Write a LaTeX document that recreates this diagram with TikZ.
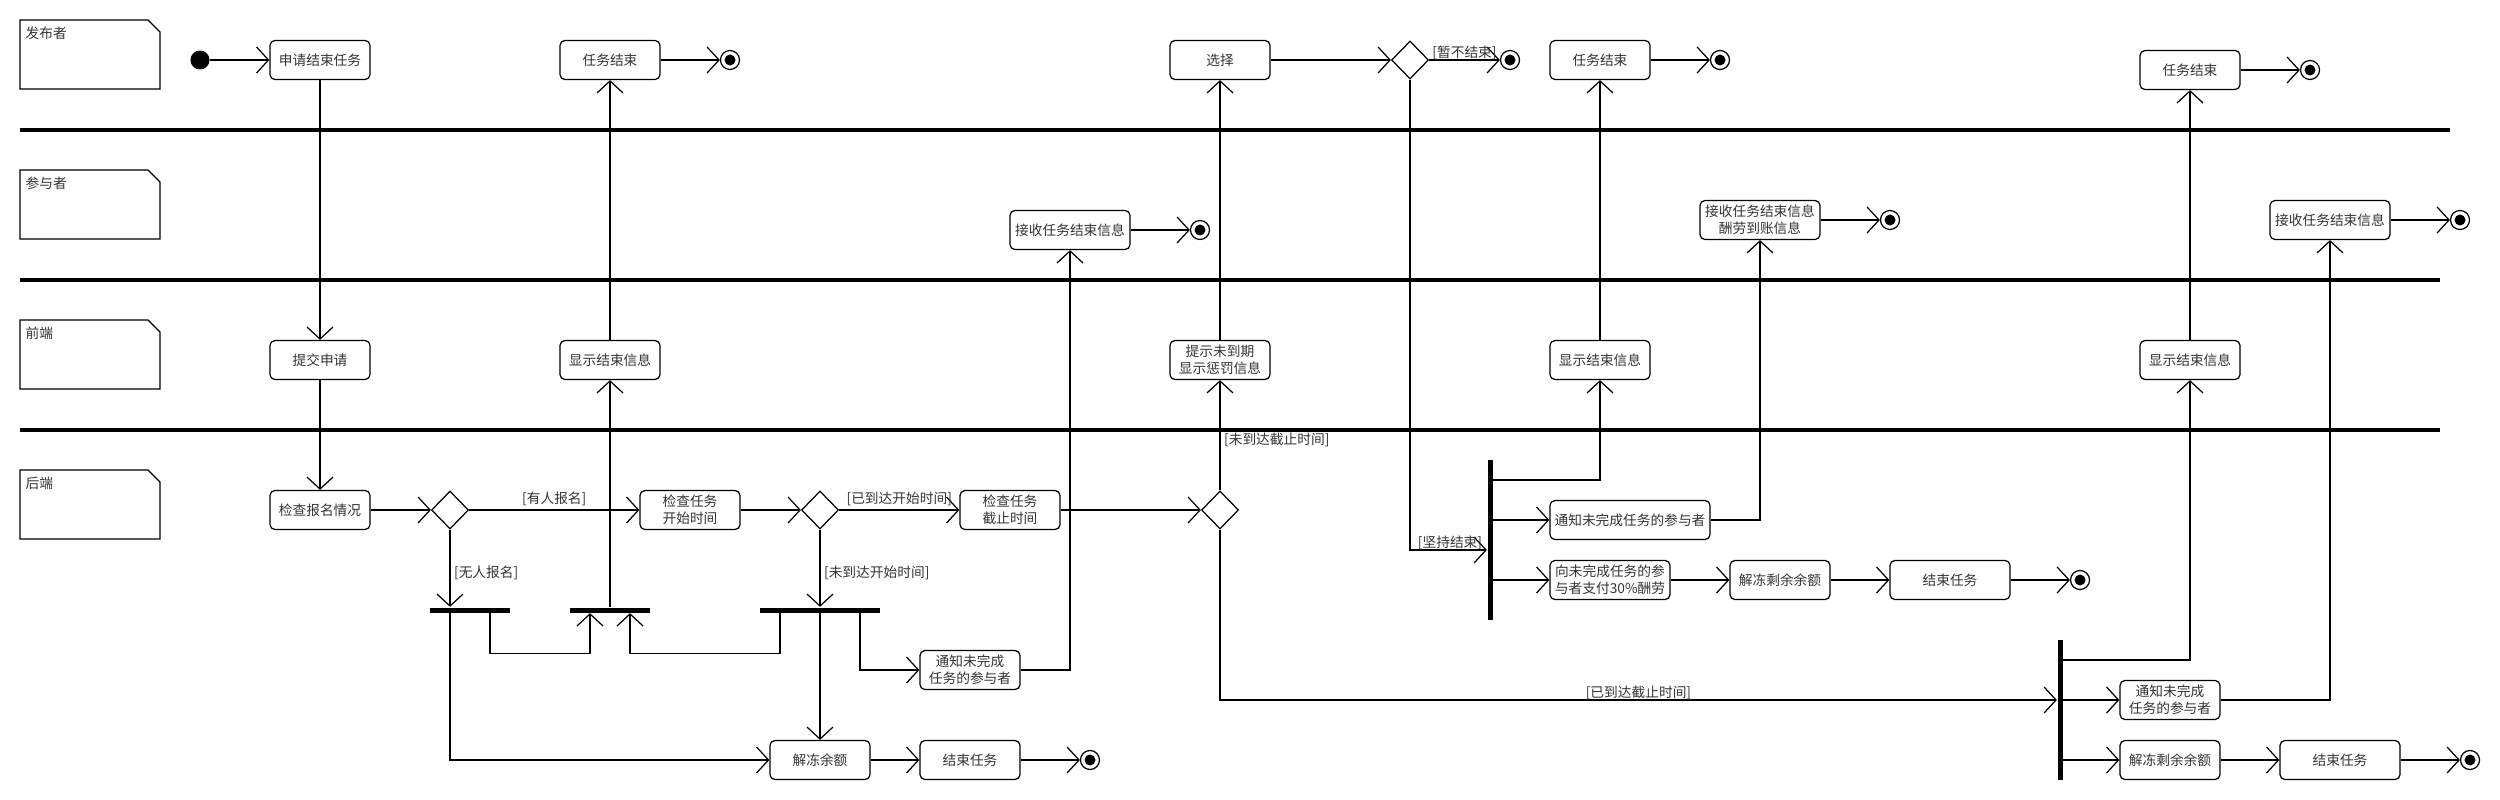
\documentclass[tikz,border=0pt]{standalone}
\usepackage{fontspec}
\setmainfont{Noto Sans CJK SC}
\usetikzlibrary{arrows.meta,shapes.geometric}

\begin{document}
\begin{tikzpicture}[x=0.01cm,y=-0.01cm,line width=0.35pt]
        \tikzset{
        txt/.style={font=\fontsize{3.9}{4.8}\selectfont, text=black!80},
        act/.style={draw, rounded corners=0.05cm, minimum width=1cm,
        minimum height=0.39cm, inner sep=0pt, align=center, txt},
        dec/.style={diamond, draw, minimum width=0.37cm, minimum height=0.38cm, inner sep=0pt},
        ini/.style={circle, fill=black, minimum size=0.19cm, inner sep=0pt},
        fin/.style={circle, draw, minimum size=0.19cm, inner sep=0pt,
        path picture={\fill (path picture bounding box.center) circle (0.055cm);}},
        hbar/.style={fill=black, inner sep=0pt, minimum height=0.05cm},
        vbar/.style={fill=black, inner sep=0pt, minimum width=0.05cm},
        grd/.style={txt, inner sep=1pt},
        arr/.style={-{Straight Barb[length=0.12cm,width=0.26cm]}},
        lane/.style={line width=1.4pt},
        }
        \useasboundingbox (0,0) rectangle (2500,800);

        % lanes
        \foreach \y/\t in {20/发布者,170/参与者,320/前端,470/后端} {
        \draw (20,\y) -- (148,\y) -- (160,\y+12) -- (160,\y+69) -- (20,\y+69) -- cycle;
        \node[txt, anchor=west, inner sep=0pt] (l\y) at (25,\y+13) {\t};
        }
        \foreach \y/\e in {130/2450,280/2440,430/2440}
        \draw[lane] (20,\y) -- (\e,\y);

        % 发布者
        \node[ini] (s0) at (200,60) {};
        \node[act] (p1) at (320,60) {申请结束任务};
        \node[act] (p2) at (610,60) {任务结束};
        \node[fin] (e1) at (730,60) {};
        \node[act] (p3) at (1220,60) {选择};
        \node[dec] (d4) at (1410,60) {};
        \node[fin] (e2) at (1510,60) {};
        \node[act] (p4) at (1600,60) {任务结束};
        \node[fin] (e3) at (1720,60) {};
        \node[act] (p5) at (2190,70) {任务结束};
        \node[fin] (e4) at (2310,70) {};
        % 参与者
        \node[act, minimum width=1.2cm] (r1) at (1070,230) {接收任务结束信息};
        \node[fin] (e5) at (1200,230) {};
        \node[act, minimum width=1.2cm] (r2) at (1760,220) {接收任务结束信息\\酬劳到账信息};
        \node[fin] (e6) at (1890,220) {};
        \node[act, minimum width=1.2cm] (r3) at (2330,220) {接收任务结束信息};
        \node[fin] (e7) at (2460,220) {};
        % 前端
        \node[act] (f1) at (320,360) {提交申请};
        \node[act] (f2) at (610,360) {显示结束信息};
        \node[act] (f3) at (1220,360) {提示未到期\\显示惩罚信息};
        \node[act] (f4) at (1600,360) {显示结束信息};
        \node[act] (f5) at (2190,360) {显示结束信息};
        % 后端
        \node[act] (b1) at (320,510) {检查报名情况};
        \node[dec] (d1) at (450,510) {};
        \node[act] (b2) at (690,510) {检查任务\\开始时间};
        \node[dec] (d2) at (820,510) {};
        \node[act] (b3) at (1010,510) {检查任务\\截止时间};
        \node[dec] (d3) at (1220,510) {};
        \node[hbar, minimum width=0.8cm] (k1) at (470,610) {};
        \node[hbar, minimum width=0.8cm] (k2) at (610,610) {};
        \node[hbar, minimum width=1.2cm] (k3) at (820,610) {};
        \node[act] (b4) at (970,670) {通知未完成\\任务的参与者};
        \node[act] (b5) at (820,760) {解冻余额};
        \node[act] (b6) at (970,760) {结束任务};
        \node[fin] (e8) at (1090,760) {};
        \node[vbar, minimum height=1.6cm] (k4) at (1490,540) {};
        \node[act, minimum width=1.6cm] (b7) at (1630,520) {通知未完成任务的参与者};
        \node[act, minimum width=1.2cm] (b8) at (1610,580) {向未完成任务的参\\与者支付30\%酬劳};
        \node[act] (b9) at (1780,580) {解冻剩余余额};
        \node[act, minimum width=1.2cm] (b10) at (1950,580) {结束任务};
        \node[fin] (e9) at (2080,580) {};
        \node[vbar, minimum height=1.4cm] (k5) at (2060,710) {};
        \node[act] (b11) at (2170,700) {通知未完成\\任务的参与者};
        \node[act] (b12) at (2170,760) {解冻剩余余额};
        \node[act, minimum width=1.2cm] (b13) at (2340,760) {结束任务};
        \node[fin] (e10) at (2470,760) {};

        % flow
        \draw[arr] (s0) -- (p1);
        \draw[arr] (p1) -- (f1);
        \draw[arr] (f1) -- (b1);
        \draw[arr] (b1) -- (d1);
        \draw[arr] (d1) -- node[grd, above] {[有人报名]} (b2);
        \draw[arr] (b2) -- (d2);
        \draw[arr] (d2) -- node[grd, above] {[已到达开始时间]} (b3);
        \draw[arr] (b3) -- (d3);
        \draw[arr] (d3) -- node[grd, pos=0.46, right] {[未到达截止时间]} (f3);
        \draw[arr] (f3) -- (p3);
        \draw[arr] (p3) -- (d4);
        \draw[arr] (d4) -- node[grd, above, inner sep=0pt] {[暂不结束]} (e2);
        \draw[arr] (d4) |- node[grd, pos=0.76, above, inner sep=0pt] {[坚持结束]} ([yshift=-0.1cm]k4.west);
        \draw[arr] ([yshift=0.6cm]k4.east) -| (f4);
        \draw[arr] (f4) -- (p4);
        \draw[arr] (p4) -- (e3);
        \draw[arr] (k4.east |- b7.west) -- (b7.west);
        \draw[arr] (k4.east |- b8.west) -- (b8.west);
        \draw[arr] (b7) -| (r2);
        \draw[arr] (r2) -- (e6);
        \draw[arr] (b8) -- (b9);
        \draw[arr] (b9) -- (b10);
        \draw[arr] (b10) -- (e9);
        % forks
        \draw[arr] (d1) -- node[grd, pos=0.56, right] {[无人报名]} (d1.south |- k1.north);
        \draw[arr] (d1.south |- k1.south) |- (b5);
        \draw[arr] ([xshift=0.2cm]k1.south) -- ++(0,40) -| ([xshift=-0.2cm]k2.south);
        \draw[arr] ([xshift=-0.4cm]k3.south) -- ++(0,40) -| ([xshift=0.2cm]k2.south);
        \draw[arr] (k2) -- (f2);
        \draw[arr] (f2) -- (p2);
        \draw[arr] (p2) -- (e1);
        \draw[arr] (d2) -- node[grd, pos=0.56, right] {[未到达开始时间]} (k3);
        \draw[arr] (k3) -- (b5);
        \draw[arr] ([xshift=0.4cm]k3.south) |- (b4);
        \draw[arr] (b4) -| (r1);
        \draw[arr] (r1) -- (e5);
        \draw[arr] (b5) -- (b6);
        \draw[arr] (b6) -- (e8);
        \draw[arr] (d3) |- node[grd, pos=0.75, above, inner sep=0pt] {[已到达截止时间]} ([yshift=0.1cm]k5.west);
        \draw[arr] ([yshift=0.5cm]k5.east) -| (f5);
        \draw[arr] (f5) -- (p5);
        \draw[arr] (p5) -- (e4);
        \draw[arr] (k5.east |- b11.west) -- (b11);
        \draw[arr] (k5.east |- b12.west) -- (b12);
        \draw[arr] (b11) -| (r3);
        \draw[arr] (r3) -- (e7);
        \draw[arr] (b12) -- (b13);
        \draw[arr] (b13) -- (e10);
\end{tikzpicture}
\end{document}
